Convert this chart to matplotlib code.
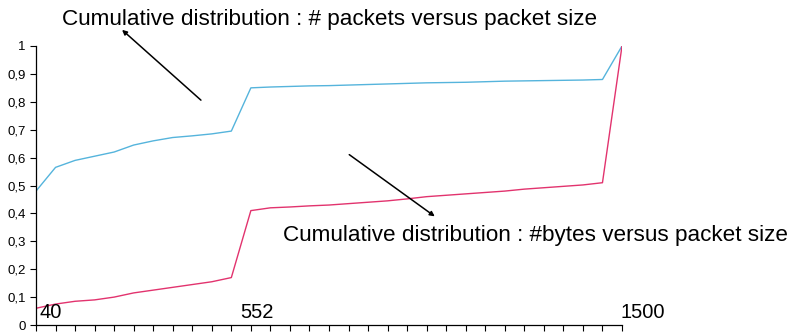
import matplotlib
matplotlib.use("Agg")
import matplotlib.pyplot as plt

plt.rcParams['font.family'] = ['Liberation Sans', 'DejaVu Sans']

# cumulative share of packets, one value per packet-size bucket (40 ... 1500)
packets = [0.48, 0.565, 0.59, 0.605, 0.62, 0.645, 0.66, 0.672, 0.678, 0.685, 0.695,
           0.85, 0.853, 0.855, 0.857, 0.858, 0.86, 0.862, 0.864, 0.866, 0.868,
           0.869, 0.87, 0.872, 0.874, 0.875, 0.876, 0.877, 0.878, 0.88, 1.0]

# cumulative share of bytes
bytes_ = [0.06, 0.075, 0.085, 0.09, 0.1, 0.115, 0.125, 0.135, 0.145, 0.155, 0.17,
          0.41, 0.42, 0.423, 0.427, 0.43, 0.435, 0.44, 0.445, 0.452, 0.46,
          0.465, 0.47, 0.475, 0.48, 0.487, 0.492, 0.497, 0.502, 0.51, 1.0]

size_labels = {0: "40", 11: "552", 30: "1500"}
yticks = [0, 0.1, 0.2, 0.3, 0.4, 0.5, 0.6, 0.7, 0.8, 0.9, 1]
ytick_labels = ["0", "0,1", "0,2", "0,3", "0,4", "0,5", "0,6", "0,7", "0,8", "0,9", "1"]

fig = plt.figure(figsize=(7.87, 3.32), dpi=100)
ax = fig.add_axes([36 / 787, 7 / 332, 586 / 787, 279 / 332])

x = list(range(len(packets)))
ax.plot(x, packets, color='#55b4dc', lw=1.0)
ax.plot(x, bytes_, color='#e2336e', lw=1.0)

ax.set_xlim(0, len(packets) - 1)
ax.set_ylim(0, 1)
ax.set_xticks(x)
ax.set_xticklabels([])
ax.set_yticks(yticks)
ax.set_yticklabels(ytick_labels, fontsize=9.5)
ax.tick_params(axis='both', direction='out', length=4.5, width=0.8, color='black', pad=3)
for s in ['top', 'right']:
    ax.spines[s].set_visible(False)
for s in ['left', 'bottom']:
    ax.spines[s].set_linewidth(0.9)
ax.patch.set_alpha(0)

# packet size labels sitting just above the axis
offsets = {0: (0.2, 'left'), 11: (0.3, 'center'), 30: (-0.1, 'left')}
for i, lab in size_labels.items():
    off, ha = offsets[i]
    ax.text(i + off, 0.025, lab, fontsize=14.5, ha=ha, va='baseline', clip_on=False)

fig.text(62 / 787, 1 - 19 / 332, "Cumulative distribution : # packets versus packet size",
         fontsize=16.2, ha='left', va='center')
fig.text(283 / 787, 1 - 235 / 332, "Cumulative distribution : #bytes versus packet size",
         fontsize=16.2, ha='left', va='center')

ax.annotate("", xy=(120, 332 - 28), xytext=(203, 332 - 102),
            xycoords='figure pixels', textcoords='figure pixels',
            arrowprops=dict(arrowstyle='-|>', color='black', lw=1.1, mutation_scale=7))
ax.annotate("", xy=(437, 332 - 218), xytext=(347, 332 - 153),
            xycoords='figure pixels', textcoords='figure pixels',
            arrowprops=dict(arrowstyle='-|>', color='black', lw=1.1, mutation_scale=7))

fig.savefig("out.png", dpi=100)
